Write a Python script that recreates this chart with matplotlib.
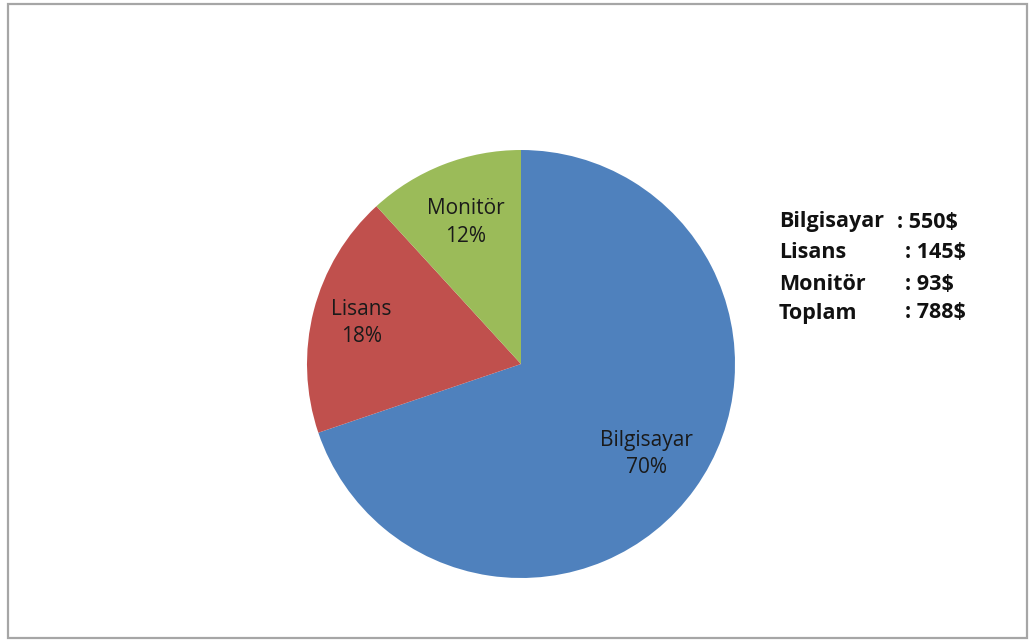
import numpy as np
import matplotlib.pyplot as plt
from matplotlib.patches import Rectangle

# cost breakdown
items = ['Bilgisayar', 'Lisans', 'Monitör']
costs = [550, 145, 93]
colors = ['#4F81BD', '#C0504D', '#9BBB59']
names_col = ['Bilgisayar', 'Lisans', 'Monitör', 'Toplam']


def main():
    fig = plt.figure(figsize=(10.29, 6.40), dpi=100)
    ax = fig.add_axes([0, 0, 1, 1])

    #! frame round the chart area
    ax.add_patch(Rectangle((8, 2), 1019, 634, fill=False,
                           edgecolor='#a6a6a6', linewidth=1.6))

    #! pie, clockwise from 12 o'clock
    wedges, texts, autotexts = ax.pie(
        costs, colors=colors, startangle=90, counterclock=False,
        center=(521, 276), radius=214, autopct='%.0f%%',
        wedgeprops=dict(linewidth=0), frame=True)
    ax.set_xlim(0, 1029)
    ax.set_ylim(0, 640)
    ax.set_aspect('equal')
    ax.axis('off')

    # label distance per slice (fraction of radius)
    dist = [0.72, 0.77, 0.71]
    for w, at, name, d in zip(wedges, autotexts, items, dist):
        ang = np.deg2rad((w.theta1 + w.theta2) / 2)
        x = 521 + d * 214 * np.cos(ang)
        y = 276 + d * 214 * np.sin(ang)
        at.set_text(name + '\n' + at.get_text())
        at.set_position((x, y))
        at.set_ha('center')
        at.set_va('center')
        at.set_fontsize(15)
        at.set_family('Open Sans')
        at.set_color('#1a1a1a')
        at.set_linespacing(1.4)

    #! cost list on the right
    values = costs + [sum(costs)]
    ys = [418, 387, 356, 327]
    for name, v, y in zip(names_col, values, ys):
        ax.text(779, y, name, fontsize=15.5, fontweight='bold',
                family='Open Sans', va='center', ha='left', color='#111111')
        ax.text(897 if name == 'Bilgisayar' else 905, y, ': %d$' % v,
                fontsize=15.5, fontweight='bold', family='Open Sans',
                va='center', ha='left', color='#111111')

    fig.savefig('out.png', dpi=100, facecolor='white')


if __name__ == "__main__":
    main()
